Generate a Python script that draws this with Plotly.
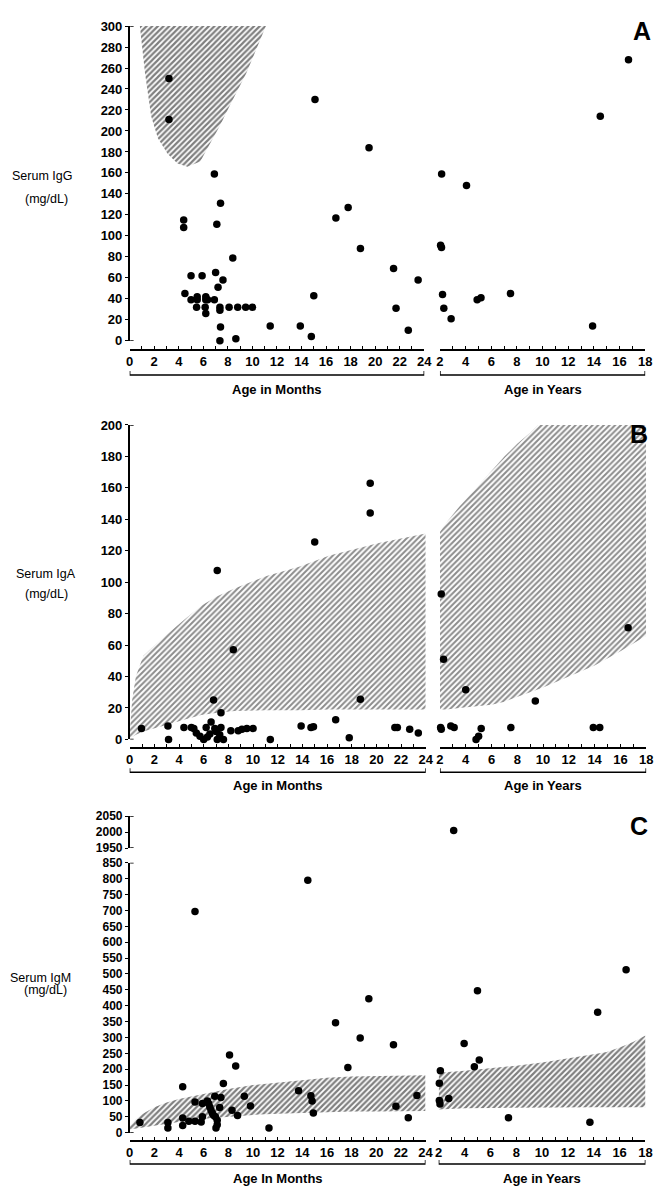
import plotly.graph_objects as go

W, H = 663, 1195
FONT = "Liberation Sans, Arial, Helvetica, sans-serif"

# ---------------- Panel A : Serum IgG ----------------
igg_m_age = [3.2, 3.2, 6.9, 7.4, 4.4, 4.4, 7.1, 8.4, 5.0, 5.9, 7.0, 7.6, 7.2, 4.5, 5.0, 5.5,
             6.2, 6.35, 6.9, 5.5, 6.2, 5.45, 6.15, 7.35, 7.35, 8.1, 8.8, 9.45, 10.0, 6.2,
             7.4, 7.35, 8.65, 11.45, 13.9, 14.8, 15.0, 15.1, 16.8, 17.8, 18.8, 19.5, 21.5,
             21.7, 22.7, 23.5]
igg_m_val = [250, 211, 159, 131, 115, 108, 111, 79, 62, 62, 65, 58, 51, 45, 39, 39,
             39, 39, 39, 42, 42, 32, 32, 32, 29, 32, 32, 32, 32, 26,
             13, 0, 2, 14, 14, 4, 43, 230, 117, 127, 88, 184, 69,
             31, 10, 58]
igg_y_age = [2.13, 4.07, 2.05, 2.12, 2.2, 4.9, 5.2, 7.5, 2.3, 2.87, 13.9, 14.5, 16.7]
igg_y_val = [159, 148, 91, 89, 44, 39, 41, 45, 31, 21, 14, 214, 268]
igg_norm_age = [0.83, 1.1, 1.25, 1.75, 2.3, 3.1, 3.9, 4.7, 5.75, 6.45, 7.35, 8.15, 9.5, 11.1]
igg_norm_low = [300, 271, 255, 214, 193, 178, 169, 166, 171, 186, 205, 224, 255, 300]
igg_norm_high = [300, 300, 300, 300, 300, 300, 300, 300, 300, 300, 300, 300, 300, 300]

# ---------------- Panel B : Serum IgA ----------------
iga_m_age = [0.96, 3.1, 3.15, 4.4, 5.0, 5.2, 5.4, 5.7, 6.0, 6.2, 6.3, 6.5, 6.6, 6.8, 6.9,
             7.0, 7.1, 7.1, 7.3, 7.4, 7.4, 7.6, 8.2, 8.4, 8.8, 9.1, 9.5, 10.0, 11.4, 13.9,
             14.7, 14.9, 15.0, 16.7, 17.8, 18.7, 19.5, 19.5, 21.5, 21.7, 22.7, 23.4]
iga_m_val = [7, 8.5, 0, 7.5, 7.5, 7, 4, 2, 0, 7.5, 1.5, 3.5, 11, 25, 7,
             5, 107.5, 0, 3, 17, 7.5, 0, 5.5, 57, 5.5, 6.5, 7, 7, 0, 8.5,
             7.5, 8, 125.5, 12.5, 1, 25.5, 163, 144, 7.5, 7.5, 6.5, 4]
iga_y_age = [2.05, 2.1, 2.1, 2.28, 2.84, 3.1, 4.0, 4.8, 5.0, 5.2, 7.5, 9.4, 13.9, 14.4, 16.6]
iga_y_val = [7.5, 6.5, 92.5, 51, 8.5, 7.5, 31.5, 0, 2, 7, 7.5, 24.5, 7.5, 7.5, 71]
iga_norm_m_age = [0, 0.2, 0.5, 1.1, 2.3, 3.1, 4.4, 5.8, 7.1, 8.5, 11.1, 13.8, 16.2, 20.2, 24]
iga_norm_m_high = [3, 25, 40, 53, 62, 67, 76, 85, 91, 96, 104, 110, 117, 125, 131]
iga_norm_m_low = [0.5, 1.5, 3, 5, 8, 9.5, 12.5, 15.5, 17, 18, 18.5, 18.5, 19, 19, 19]
iga_norm_y_age = [2, 2.5, 3.5, 5, 6, 7, 8, 9, 9.6, 10, 12, 14, 16, 18]
iga_norm_y_high = [132, 138, 148, 162, 171, 180, 188, 195, 200, 200, 200, 200, 200, 200]
iga_norm_y_low = [19, 19, 20, 21, 22, 24, 27, 30, 32, 33, 40, 47, 56, 66]

# ---------------- Panel C : Serum IgM ----------------
igm_m_age = [0.83, 3.1, 3.1, 4.3, 4.3, 4.3, 4.8, 5.3, 5.8, 5.3, 5.9, 5.9, 6.3, 6.4, 6.5,
             6.6, 6.7, 6.8, 6.95, 7.1, 7.1, 7.0, 6.9, 7.4, 7.3, 7.6, 8.1, 8.6, 8.3, 8.75,
             9.3, 9.8, 11.3, 13.7, 14.7, 14.8, 14.9, 5.3, 14.45, 16.7, 17.7, 18.7, 19.4,
             21.4, 21.6, 22.6, 23.3]
igm_m_val = [32, 32, 15, 145, 46, 23, 36, 36, 34, 97, 92, 50, 100, 92, 81,
             71, 62, 55, 50, 39, 25, 15, 115, 111, 79, 155, 245, 210, 71, 54,
             115, 84, 15, 132, 116, 100, 62, 697, 795, 346, 205, 298, 422,
             277, 83, 47, 117]
igm_y_age = [2.13, 2.05, 2.05, 2.1, 2.78, 3.16, 3.97, 4.76, 5.0, 5.14, 7.4, 13.7, 14.3, 16.5]
igm_y_val = [195, 156, 101, 90, 108, 2005, 281, 208, 447, 229, 47, 33, 379, 513]
igm_norm_m_age = [0, 0.5, 1, 2, 3, 4, 5, 6, 8, 10, 12, 14, 16, 18, 20, 22, 24]
igm_norm_m_high = [20, 42, 58, 80, 95, 106, 115, 122, 138, 150, 159, 166, 173, 177, 179, 180, 181]
igm_norm_m_low = [10, 13, 17, 24, 30, 36, 40, 44, 51, 56, 60, 63, 66, 67, 67, 68, 68]
igm_norm_y_age = [2, 4, 6, 8, 10, 12, 14, 15, 16, 17, 18]
igm_norm_y_high = [189, 195, 202, 211, 221, 233, 247, 254, 268, 285, 306]
igm_norm_y_low = [73, 77, 78, 79, 79, 80, 80, 80, 80, 80, 80]

# axis break for IgM
igm_break = 1000

month_range = [0, 24]
year_range = [2, 18]


def px(v):
    return v / W


def py(v):
    return 1 - v / H


fig = go.Figure()


def band(xa, ya, ages, low, high, fg, sol):
    fig.add_trace(go.Scatter(
        x=list(ages) + list(ages)[::-1], y=list(low) + list(high)[::-1],
        xaxis=xa, yaxis=ya, mode="lines", line=dict(width=0, color="rgba(0,0,0,0)"),
        fill="toself", fillcolor="white",
        fillpattern=dict(shape="/", fgcolor=fg, bgcolor="white", size=4, solidity=sol),
        hoverinfo="skip", showlegend=False))


def dots(xa, ya, xs, ys):
    fig.add_trace(go.Scatter(
        x=xs, y=ys, xaxis=xa, yaxis=ya, mode="markers",
        marker=dict(size=7.5, color="black", line=dict(width=0)),
        cliponaxis=False, showlegend=False))


# Panel A
band("x", "y", igg_norm_age, igg_norm_low, igg_norm_high, "#000000", 0.55)
dots("x", "y", igg_m_age, igg_m_val)
dots("x2", "y", igg_y_age, igg_y_val)

# Panel B
band("x3", "y2", iga_norm_m_age, iga_norm_m_low, iga_norm_m_high, "#1a1a1a", 0.5)
band("x4", "y2", iga_norm_y_age, iga_norm_y_low, iga_norm_y_high, "#1a1a1a", 0.5)
dots("x3", "y2", iga_m_age, iga_m_val)
dots("x4", "y2", iga_y_age, iga_y_val)

# Panel C
band("x5", "y3", igm_norm_m_age, igm_norm_m_low, igm_norm_m_high, "#000000", 0.55)
band("x6", "y3", igm_norm_y_age, igm_norm_y_low, igm_norm_y_high, "#000000", 0.55)
dots("x5", "y3", igm_m_age, igm_m_val)
low_a = [a for a, v in zip(igm_y_age, igm_y_val) if v < igm_break]
low_v = [v for v in igm_y_val if v < igm_break]
hi_a = [a for a, v in zip(igm_y_age, igm_y_val) if v >= igm_break]
hi_v = [v for v in igm_y_val if v >= igm_break]
dots("x6", "y3", low_a, low_v)
dots("x6", "y4", hi_a, hi_v)

tickfont = dict(family=FONT, size=13, color="black", weight="bold")


def xcfg(d0, d1, rng, pos, t0):
    return dict(domain=[px(d0), px(d1)], range=rng, anchor="free", position=py(pos),
                showline=True, linecolor="black", linewidth=1.8,
                ticks="inside", ticklen=3, tickwidth=1.3, tickcolor="black",
                tickmode="linear", tick0=t0, dtick=2,
                minor=dict(tickmode="linear", tick0=t0, dtick=1, ticks="inside",
                           ticklen=3, tickwidth=1.3, tickcolor="black"),
                showgrid=False, zeroline=False, tickfont=tickfont, fixedrange=True)


def ycfg(top, bot, rng, dt, anchor, fs=13):
    return dict(domain=[py(bot), py(top)], range=rng, anchor=anchor,
                showline=True, linecolor="black", linewidth=1.5,
                ticks="outside", ticklen=3, tickwidth=1.3, tickcolor="black",
                tickmode="linear", tick0=rng[0], dtick=dt,
                showgrid=False, zeroline=False,
                tickfont=dict(tickfont, size=fs), fixedrange=True)


fig.update_layout(
    width=W, height=H, margin=dict(l=0, r=0, t=0, b=0),
    paper_bgcolor="white", plot_bgcolor="white", showlegend=False,
    xaxis=xcfg(128, 428, month_range, 347, 0),
    xaxis2=xcfg(444, 653, year_range, 347, 2),
    yaxis=ycfg(19.3, 338, [0, 300], 20, "x"),
    xaxis3=xcfg(128, 429.5, month_range, 750, 0),
    xaxis4=xcfg(444, 654, year_range, 750, 2),
    yaxis2=ycfg(423.3, 741.7, [0, 200], 20, "x3"),
    xaxis5=xcfg(128, 429.3, month_range, 1148.3, 0),
    xaxis6=xcfg(442.7, 653.3, year_range, 1148.3, 2),
    yaxis3=ycfg(866.7, 1140, [0, 850], 50, "x5", 12),
    yaxis4=ycfg(819.3, 851.7, [1950, 2050], 50, "x5", 12),
)

# brackets under the age axes and their titles
shapes = []
ann = []
panels = [
    ("x", "x2", 372.7, 387, "Age in Months", "Age in Years"),
    ("x3", "x4", 775, 788, "Age in Months", "Age in Years"),
    ("x5", "x6", 1171.7, 1186, "Age In Months", "Age in Years"),
]
for xm, xy, yb, yt, tm, ty in panels:
    for xa, rng, title in ((xm, month_range, tm), (xy, year_range, ty)):
        shapes.append(dict(type="path", xref=xa, yref="paper",
                           path=f"M {rng[0]},{py(yb - 4)} L {rng[0]},{py(yb)} L {rng[1]},{py(yb)} L {rng[1]},{py(yb - 4)}",
                           line=dict(color="black", width=1.5)))
        ann.append(dict(x=(rng[0] + rng[1]) / 2, xref=xa, y=py(yt), yref="paper",
                        text=f"<b>{title}</b>", showarrow=False, xanchor="center", yanchor="middle",
                        font=dict(family=FONT, size=13, color="black")))

# small caps at the ends of the y axis lines
for ya, lo, hi in (("y", 0, 300), ("y2", 0, 200), ("y3", 0, 850), ("y4", 1950, 2050)):
    for v in (lo, hi):
        shapes.append(dict(type="line", xref="paper", yref=ya, x0=px(128.5), x1=px(132),
                           y0=v, y1=v, line=dict(color="black", width=1.5)))

# y titles
for (txt, x, y) in (("Serum IgG", 39, 171), ("(mg/dL)", 43, 194),
                    ("Serum IgA", 43, 574), ("(mg/dL)", 43, 594),
                    ("Serum IgM", 37, 983), ("(mg/dL)", 42, 995)):
    ann.append(dict(x=px(x), y=py(y), xref="paper", yref="paper", text=txt, showarrow=False,
                    xanchor="center", yanchor="middle",
                    font=dict(family=FONT, size=12.5, color="black")))

# panel letters
for (txt, x, y) in (("A", 650, 24), ("B", 647, 432), ("C", 647, 829)):
    ann.append(dict(x=px(x), y=py(y), xref="paper", yref="paper", text=f"<b>{txt}</b>",
                    showarrow=False, xanchor="center", yanchor="middle",
                    font=dict(family=FONT, size=25, color="black")))

fig.update_layout(shapes=shapes, annotations=ann)

fig.write_html("out.html", config={"displayModeBar": False},
               post_script="document.body.style.margin='0';document.body.style.overflow='hidden';")
